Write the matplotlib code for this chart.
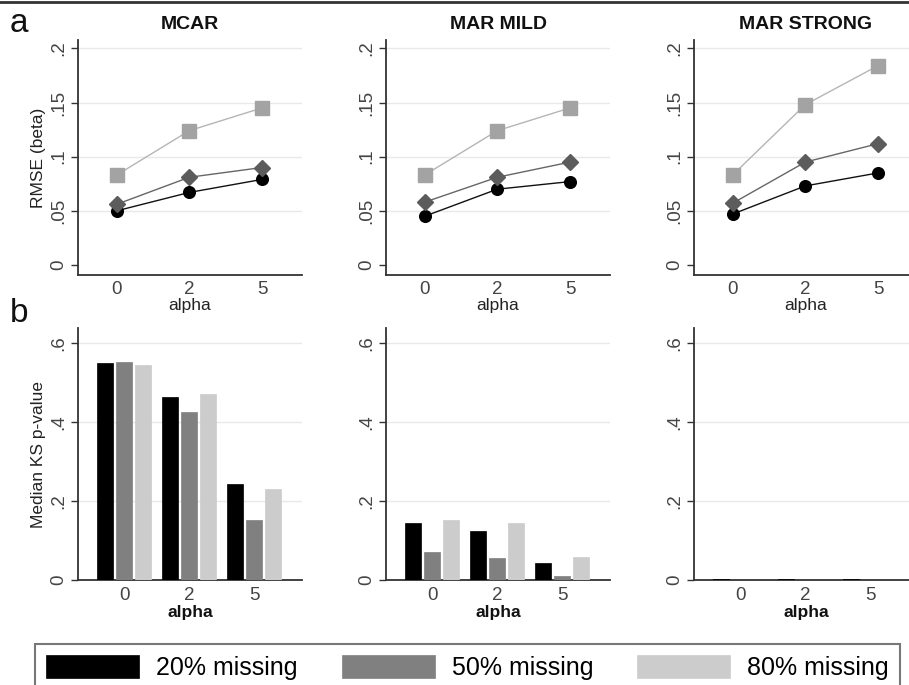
import matplotlib
matplotlib.use("Agg")
import matplotlib.pyplot as plt
import numpy as np
from matplotlib.lines import Line2D

plt.rcParams['font.family'] = ['Liberation Sans', 'DejaVu Sans']

alpha_labels = ["0", "2", "5"]
mechanisms = ["MCAR", "MAR MILD", "MAR STRONG"]
series_labels = ["20% missing", "50% missing", "80% missing"]

# RMSE (beta): rows = 20%, 50%, 80% missing
rmse_mcar = [[0.050, 0.067, 0.079], [0.056, 0.081, 0.090], [0.083, 0.124, 0.145]]
rmse_mild = [[0.045, 0.070, 0.077], [0.058, 0.081, 0.095], [0.083, 0.124, 0.145]]
rmse_strong = [[0.047, 0.073, 0.085], [0.057, 0.095, 0.112], [0.083, 0.148, 0.184]]

# Median KS p-value
ks_mcar = [[0.549, 0.465, 0.243], [0.554, 0.425, 0.153], [0.544, 0.472, 0.232]]
ks_mild = [[0.145, 0.124, 0.044], [0.072, 0.057, 0.011], [0.152, 0.145, 0.059]]
ks_strong = [[0.002, 0.002, 0.002], [0.001, 0.001, 0.001], [0.0005, 0.0005, 0.0005]]

rmse_all = [rmse_mcar, rmse_mild, rmse_strong]
ks_all = [ks_mcar, ks_mild, ks_strong]

W, H = 909, 685
fig = plt.figure(figsize=(W / 100, H / 100), dpi=100)

def ax_rect(x0, x1, ytop, ybot):
    return [x0 / W, 1 - ybot / H, (x1 - x0) / W, (ybot - ytop) / H]

col_x = [78, 386, 694]
ax_w = 224

marker_cfg = [
    dict(marker='o', mfc='black', mec='black', ms=8.4, lc='#111111'),
    dict(marker='D', mfc='#5c5c5c', mec='#5c5c5c', ms=8.0, lc='#666666'),
    dict(marker='s', mfc='#a3a3a3', mec='#a3a3a3', ms=9.4, lc='#b5b5b5'),
]
bar_colors = ['#000000', '#808080', '#cccccc']
spine_col = '#333333'
tick_col = '#444444'
grid_col = '#e9e9e9'

xpos = np.arange(1, 4)

def style_axes(ax, yticks, ylabels, xpad):
    for s in ['top', 'right']:
        ax.spines[s].set_visible(False)
    for s in ['left', 'bottom']:
        ax.spines[s].set_color(spine_col)
        ax.spines[s].set_linewidth(1.3)
    ax.set_yticks(yticks)
    ax.set_yticklabels(ylabels, rotation=90, va='center', color=tick_col, fontsize=13.5)
    ax.tick_params(axis='y', length=5, width=1.0, color=spine_col, pad=3)
    ax.tick_params(axis='x', length=0, pad=xpad, labelsize=13.5, labelcolor=tick_col)
    for yv in yticks[1:]:
        ax.axhline(yv, color=grid_col, lw=1.0, zorder=0)
    ax.set_facecolor('white')

# Top row: RMSE lines
for j in range(3):
    ax = fig.add_axes(ax_rect(col_x[j], col_x[j] + ax_w, 40, 275))
    for k in range(3):
        cfg = marker_cfg[k]
        ax.plot(xpos, rmse_all[j][k], color=cfg['lc'], lw=1.0, marker=cfg['marker'],
                ms=cfg['ms'], mfc=cfg['mfc'], mec=cfg['mec'], zorder=3)
    ax.set_xlim(0.47, 3.55)
    ax.set_ylim(-0.0092, 0.2077)
    style_axes(ax, [0, 0.05, 0.1, 0.15, 0.2], ["0", ".05", ".1", ".15", ".2"], 4)
    ax.set_xticks(xpos)
    ax.set_xticklabels(alpha_labels)
    ax.set_xlabel("alpha", fontsize=12.5, color='#222222', labelpad=0.5)
    ax.set_title(mechanisms[j], fontsize=14, fontweight='bold', pad=8, color='#111111')
    if j == 0:
        ax.set_ylabel("RMSE (beta)", fontsize=12.5, color='#222222', labelpad=3)

# Bottom row: KS bars
offsets = [-0.29, 0.0, 0.29]
bar_handles = []
for j in range(3):
    ax = fig.add_axes(ax_rect(col_x[j], col_x[j] + ax_w, 328, 580))
    for k in range(3):
        b = ax.bar(xpos + offsets[k], ks_all[j][k], width=0.25, color=bar_colors[k],
                   edgecolor=bar_colors[k], linewidth=0.5, zorder=3, label=series_labels[k])
        if j == 0:
            bar_handles.append(b)
    ax.set_xlim(0.29, 3.74)
    ax.set_ylim(0, 0.639)
    style_axes(ax, [0, 0.2, 0.4, 0.6], ["0", ".2", ".4", ".6"], 5)
    ax.set_xticks(xpos)
    ax.set_xticklabels(alpha_labels)
    ax.set_xlabel("alpha", fontsize=12.5, fontweight='bold', color='#111111', labelpad=0.5)
    if j == 0:
        ax.set_ylabel("Median KS p-value", fontsize=12.5, color='#222222', labelpad=3)

# Panel letters
fig.text(10 / W, 1 - 24 / H, "a", fontsize=24, va='center', ha='left', color='#111111')
fig.text(10 / W, 1 - 313 / H, "b", fontsize=24, va='center', ha='left', color='#111111')

# Legend
leg = fig.legend(bar_handles, series_labels, loc='upper left',
                 bbox_to_anchor=(35 / W, 1 - 644 / H), ncol=3, fontsize=18,
                 handlelength=3.72, handleheight=1.04, handletextpad=0.68,
                 columnspacing=1.75, borderpad=0.45, borderaxespad=0,
                 frameon=True, fancybox=False)
leg.get_frame().set_edgecolor('#555555')
leg.get_frame().set_linewidth(1.5)

# Top border line
fig.add_artist(Line2D([0, 1], [1 - 1.5 / H, 1 - 1.5 / H], transform=fig.transFigure,
                      color='#333333', lw=2))

fig.savefig("out.png", dpi=100)
